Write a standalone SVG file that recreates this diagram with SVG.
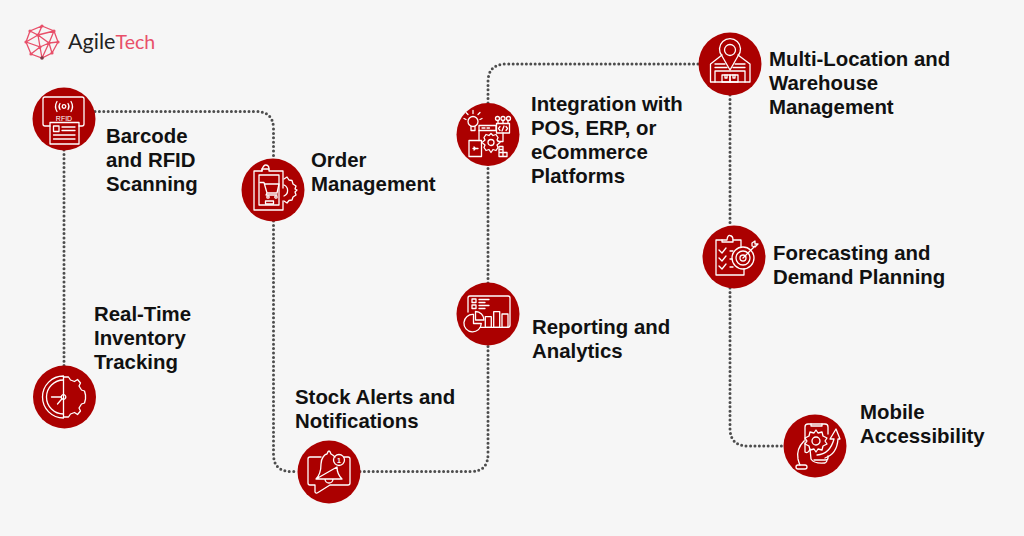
<svg xmlns="http://www.w3.org/2000/svg" width="1024" height="536" viewBox="0 0 1024 536">
<style>
.bg{fill:#f6f6f6}
.c{fill:#ab0000}
.i{fill:none;stroke:#fff;stroke-width:1.3;stroke-linejoin:round;stroke-linecap:round}
.t{font-family:"Liberation Sans",Arial,sans-serif;font-weight:700;font-size:20.400px;fill:#111}
.link{fill:none;stroke:#4d4d4d;stroke-width:3;stroke-linecap:round;stroke-dasharray:0 4.400}
.m{fill:none;stroke:#e8506a;stroke-width:1.300}
.md{fill:#e8506a}
</style>
<rect class="bg" width="1024" height="536"/>
<g id="connectors">
<path class="link" d="M64 150V366"/>
<path class="link" d="M95 111.500H256Q273.500 111.500 273.500 129V159"/>
<path class="link" d="M273.500 221V454Q273.500 471.500 291 471.500H298"/>
<path class="link" d="M360 471.500H471Q488 471.500 488 454V345"/>
<path class="link" d="M488 283V166"/>
<path class="link" d="M488 103V82Q488 64 506 64H699"/>
<path class="link" d="M730 95V226"/>
<path class="link" d="M730 288V428Q730 446 748 446H783"/>
</g>
<g id="logo">
<path class="m" d="M42 26L54 31L58 42L52 53L42 58L31 54L26 42L30 31ZM42 26L38 35L30 31M38 35L54 31M38 35L26 42M38 35L49 43L58 42M49 43L54 31M49 43L42 58M49 43L52 53M26 42L40 47L31 54M40 47L49 43M40 47L42 58M38 35L40 47"/>
<g class="md"><circle cx="42" cy="26" r="1.600"/><circle cx="54" cy="31" r="1.600"/><circle cx="58" cy="42" r="1.600"/><circle cx="52" cy="53" r="1.600"/><circle cx="31" cy="54" r="1.600"/><circle cx="26" cy="42" r="1.600"/><circle cx="30" cy="31" r="1.600"/><circle cx="38" cy="35" r="1.600"/><circle cx="49" cy="43" r="1.600"/><circle cx="40" cy="47" r="1.600"/></g>
<circle cx="42" cy="58" r="1.800" fill="#7a3a48"/>
<text x="68" y="49" font-family="Lato,'Open Sans',sans-serif" font-size="21.500" fill="#222">Agile</text>
<text x="115.500" y="49" font-family="Lato,'Open Sans',sans-serif" font-size="19.500" fill="#e8506a">Tech</text>
</g>
<g id="node-barcode">
<circle class="c" cx="64" cy="119" r="31.500"/>
<g transform="translate(64 119)" class="i">
<path d="M-14 7H-19Q-21 7 -21 5V-20Q-21 -22 -19 -22H18Q20 -22 20 -20V5Q20 7 18 7H15"/>
<rect x="-14" y="3.500" width="29" height="21.500"/>
<rect x="-10.500" y="7" width="5.500" height="5.500"/>
<path d="M-2 8H11M-2 11.500H11M-10.500 16H11M-10.500 20H11"/>
<circle cx="0" cy="-12.500" r="1.800"/>
<path d="M-4 -15.500Q-6 -12.500 -4 -9.500M4 -15.500Q6 -12.500 4 -9.500M-7 -17.500Q-10 -12.500 -7 -7.500M7 -17.500Q10 -12.500 7 -7.500"/>
<text x="0" y="1.500" text-anchor="middle" font-family="Liberation Sans,sans-serif" font-size="7" fill="#fff" stroke="none" font-weight="400">RFID</text>
</g>
<text class="t" x="106" y="143">Barcode</text>
<text class="t" x="106" y="167">and RFID</text>
<text class="t" x="106" y="191">Scanning</text>
</g>
<g id="node-tracking">
<circle class="c" cx="64.500" cy="397" r="31.500"/>
<g transform="translate(64.500 397)" class="i">
<path d="M-1 -21A21 21 0 0 0 -1 21V-21Z"/>
<path d="M-1 -17A17 17 0 0 0 -1 17"/>
<path d="M-1 -20H4L6 -17L10 -15.500L13 -17.500L16 -14L14.500 -11L17 -7L20 -6L21 -2V2L20 6L17 7L14.500 11L16 14L13 17.500L10 15.500L6 17L4 20H-1"/>
<circle cx="-1" cy="0" r="2.300"/>
<path d="M-3.300 0H-13M-2.500 1.800L-7 7"/>
</g>
<text class="t" x="94" y="321">Real-Time</text>
<text class="t" x="94" y="345">Inventory</text>
<text class="t" x="94" y="369">Tracking</text>
</g>
<g id="node-order">
<circle class="c" cx="273" cy="190" r="31.500"/>
<g transform="translate(273 190)" class="i">
<path d="M10 -2V-19H-4V-21H-11V-19H-19V20H10V11"/>
<path d="M-11 -19V-21Q-9 -25 -7.500 -25Q-4 -25 -4 -21"/>
<rect x="-14" y="-15" width="20" height="30"/>
<path d="M-13 -7.500H-9L-6 3H4L6 -6H-8M-6 3L-7 5H4"/>
<circle cx="-5" cy="7" r="1.200"/><circle cx="3" cy="7" r="1.200"/>
<rect x="-7.500" y="11" width="8" height="3"/>
<path d="M11 -11L14 -13L16 -10L19 -9.500L20 -6L23 -4L22 -1L24 0L22 2L23 5L20 7L19 10L16 10.500L14 13L11 11"/>
<path d="M11 -5A6 6 0 0 1 11 6"/>
</g>
<text class="t" x="311" y="167">Order</text>
<text class="t" x="311" y="191">Management</text>
</g>
<g id="node-alerts">
<circle class="c" cx="329" cy="472" r="31.500"/>
<g transform="translate(329 472)" class="i">
<path d="M-8 -15H-19Q-21 -15 -21 -13V11Q-21 13 -19 13H-14V20Q-13 22 -11 20.500L1 13H19Q21 13 21 11V-13Q21 -15 19 -15H15"/>
<path d="M-13 7C-9 3 -8 -3 -8 -8C-8 -14 -4 -18 -2 -18Q-1 -21 0 -21Q1 -21 2 -18Q4 -17 6 -15M8 -5C8 0 10 4 13 7H-13ZM-4 7A4 4 0 0 0 4 7"/>
<circle cx="10" cy="-12" r="5.500"/>
<text x="10" y="-9.500" text-anchor="middle" font-family="Liberation Sans,sans-serif" font-size="7" font-weight="700" fill="#fff" stroke="none">1</text>
</g>
<text class="t" x="295" y="404">Stock Alerts and</text>
<text class="t" x="295" y="428">Notifications</text>
</g>
<g id="node-reporting">
<circle class="c" cx="488" cy="314" r="31.500"/>
<g transform="translate(488 314)" class="i">
<path d="M-20 -2V-16Q-20 -18 -18 -18H20Q22 -18 22 -16V11Q22 13.300 20 13.300H-8"/>
<rect x="-16" y="-15" width="4" height="3.500"/><rect x="-16" y="-9" width="4" height="3.500"/>
<path d="M-9 -14.500H1M-9 -11.500H-3M-9 -8.500H1M-9 -5.500H-3"/>
<path d="M-14.500 0.500A8.700 8.700 0 1 0 -6.700 9.500H-14.500Z"/>
<path d="M-12.500 -2.500A8.500 8.500 0 0 1 -4 6H-12.500Z"/>
<rect x="-2.700" y="2.700" width="6" height="10.600"/>
<rect x="5.700" y="-2.300" width="6" height="15.600"/>
<rect x="14" y="0" width="6" height="13.300"/>
</g>
<text class="t" x="532" y="334">Reporting and</text>
<text class="t" x="532" y="358">Analytics</text>
</g>
<g id="node-integration">
<circle class="c" cx="488" cy="134.500" r="31.500"/>
<g transform="translate(488 134.500)" class="i">
<circle cx="-15" cy="-13" r="5"/>
<path d="M-17 -8V-4H-13V-8M-15 -24V-21M-24 -16L-22 -15M-6 -16L-8 -15M-22 -22L-20 -20M-8 -22L-10 -20"/>
<rect x="-9" y="-9" width="17" height="5"/>
<path d="M-6 -6.500H-3M-1 -6.500H1.500"/>
<rect x="8.500" y="-11" width="13" height="9.500"/>
<path d="M12 -8L10.500 -6L12 -4M18 -8L19.500 -6L18 -4M16 -8.500L14 -3.500"/>
<circle cx="9.500" cy="-16" r="2"/><circle cx="15" cy="-16" r="2"/><circle cx="20.500" cy="-16" r="2"/>
<path d="M15 -14V-11M10 -14V-11M20 -14V-11M15 -1.500V7H10M-9 -4V6"/>
<rect x="-19" y="6" width="12.500" height="16"/>
<path d="M-15 14H-10M-14 12.500L-12.500 14L-14 15.500"/>
<circle cx="3" cy="8" r="3"/>
<path d="M3 -1L5 1L8 0L10 3L9 5.500L12 8L9 10.500L10 13L8 16L5 15L3 18L1 15L-2 16L-4 13L-3 10.500L-6 8L-3 5.500L-4 3L-2 0L1 1Z"/>
<path d="M11 12H15V18H19V22H11ZM11 18H15V22M15 15H11M15 18H19"/>
</g>
<text class="t" x="531" y="111">Integration with</text>
<text class="t" x="531" y="135">POS, ERP, or</text>
<text class="t" x="531" y="159">eCommerce</text>
<text class="t" x="531" y="183">Platforms</text>
</g>
<g id="node-warehouse">
<circle class="c" cx="730" cy="64" r="31.500"/>
<g transform="translate(730 64)" class="i">
<path d="M0 6L-8 -8A10.500 10.500 0 1 1 8 -8Z"/>
<circle cx="0" cy="-14" r="5.500"/>
<path d="M-8 -9L-19.500 0V18H20V0L8 -9"/>
<path d="M-15 0H-5M5 0H15M-15 3.500H-3M3 3.500H15M-15 7H15V18M-15 7V18"/>
<rect x="-8" y="11" width="8" height="7"/><rect x="0" y="11" width="8" height="7"/>
<path d="M-5 11V14H-3V11M3 11V14H5V11"/>
</g>
<text class="t" x="769" y="66">Multi-Location and</text>
<text class="t" x="769" y="90">Warehouse</text>
<text class="t" x="769" y="114">Management</text>
</g>
<g id="node-forecast">
<circle class="c" cx="734" cy="257" r="31.500"/>
<g transform="translate(734 257)" class="i">
<path d="M7 -10V-17H-1M-12 -17H-18V18H10V12"/>
<path d="M-12 -15V-17H-7Q-6.500 -22 -4 -21.500Q-1 -21 -1 -17V-15Z"/>
<path d="M-15 -7L-12 -4L-8 -9M-15 1L-12 4L-8 -1M-15 9L-12 12L-8 7"/>
<path d="M-4 -6H-1M-4 2H-2M-4 10H-1"/>
<circle cx="9" cy="1" r="11"/>
<circle cx="9" cy="1" r="7"/>
<circle cx="9" cy="1" r="3"/>
<path d="M9 1L21 -11M18 -11V-14L21 -16V-13H24L21 -10Z"/>
</g>
<text class="t" x="773" y="260">Forecasting and</text>
<text class="t" x="773" y="284">Demand Planning</text>
</g>
<g id="node-mobile">
<circle class="c" cx="815" cy="446" r="31.500"/>
<g transform="translate(815 446)" class="i">
<path d="M-10 -5V-19Q-10 -22 -7 -22H10Q13 -22 13 -19V-12M13 10V12Q13 14 10 14H-1"/>
<path d="M-4 -22V-20H7V-22"/>
<circle cx="1" cy="-5" r="4"/>
<path d="M1 -16L3 -13L7 -14L8 -10L12 -8L10 -5L12 -2L8 0L7 4L3 3L1 6L-1 3L-5 4L-6 0L-10 -2L-8 -5L-10 -8L-6 -10L-5 -14L-1 -13Z"/>
<path d="M2 9Q15 8 19 -7H15L21 -17L25 -7H23Q22 8 10 12"/>
<path d="M-11 -5Q-19 3 -17 13Q-16 17 -15 19M-10 -3V6Q-7 8 -5 3M-5 3L-4 13Q-1 18 10 17Q12 16 12 14"/>
<rect x="-19" y="19" width="11" height="4" rx="2"/>
</g>
<text class="t" x="860" y="419">Mobile</text>
<text class="t" x="860" y="443">Accessibility</text>
</g>
</svg>
